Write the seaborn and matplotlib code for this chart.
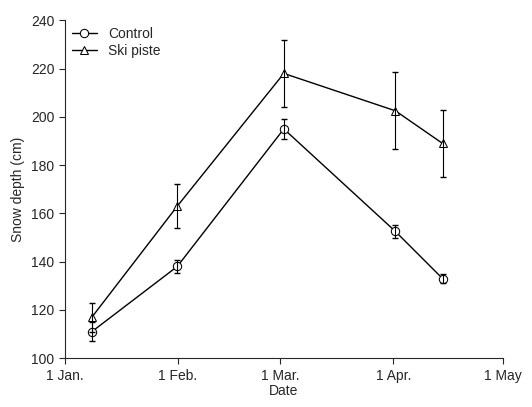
import matplotlib
matplotlib.use("Agg")
import matplotlib.pyplot as plt
import seaborn as sns
import pandas as pd

# day of year (1 Jan = 0)
days = [7.4, 30.8, 60, 90.6, 103.5]
control = [111, 138, 195, 152.5, 133]
control_err = [4, 2.5, 4, 2.5, 2]
ski = [117, 163, 218, 202.5, 189]
ski_err = [6, 9, 14, 16, 14]
tick_days = [0, 31, 59, 90, 120]
tick_labels = ['1 Jan.', '1 Feb.', '1 Mar.', '1 Apr.', '1 May']

sns.set_style("ticks")
plt.rcParams['font.family'] = ['Liberation Sans', 'DejaVu Sans']

df = pd.DataFrame({'day': days * 2, 'depth': control + ski,
                   'site': ['Control'] * 5 + ['Ski piste'] * 5})

fig, ax = plt.subplots(figsize=(5.32, 4.07), dpi=100)
sns.lineplot(data=df, x='day', y='depth', hue='site', style='site',
             markers={'Control': 'o', 'Ski piste': '^'}, dashes=False,
             palette={'Control': 'black', 'Ski piste': 'black'},
             markerfacecolor='white', markeredgecolor='black', markersize=6,
             linewidth=1, ax=ax)
ax.errorbar(days, control, yerr=control_err, fmt='none', ecolor='black', elinewidth=0.8, capsize=2.5)
ax.errorbar(days, ski, yerr=ski_err, fmt='none', ecolor='black', elinewidth=0.8, capsize=2.5)

ax.set_xlim(0, 120)
ax.set_ylim(100, 240)
ax.set_xticks(tick_days)
ax.set_xticklabels(tick_labels)
ax.set_yticks(range(100, 241, 20))
ax.set_xlabel('Date', fontsize=10, labelpad=1)
ax.set_ylabel('Snow depth (cm)', fontsize=10)
ax.tick_params(labelsize=10, direction='out', length=4)
sns.despine(ax=ax)
ax.legend(title=None, loc='upper left', frameon=False, fontsize=10,
          handlelength=1.8, borderaxespad=0.1, labelspacing=0.2)
fig.subplots_adjust(left=0.122, right=0.945, top=0.95, bottom=0.12)
fig.savefig('out.png', dpi=100)
